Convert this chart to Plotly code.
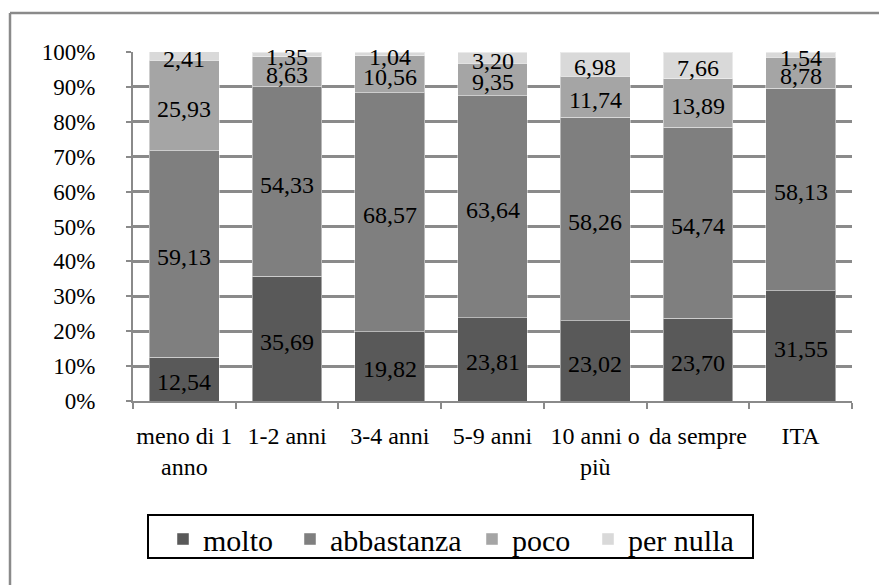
import plotly.graph_objects as go

categories = ["meno di 1<br>anno", "1-2 anni", "3-4 anni", "5-9 anni",
              "10 anni o<br>più", "da sempre", "ITA"]
molto = [12.54, 35.69, 19.82, 23.81, 23.02, 23.70, 31.55]
abbastanza = [59.13, 54.33, 68.57, 63.64, 58.26, 54.74, 58.13]
poco = [25.93, 8.63, 10.56, 9.35, 11.74, 13.89, 8.78]
per_nulla = [2.41, 1.35, 1.04, 3.20, 6.98, 7.66, 1.54]

series = [
    ("molto", molto, "#595959"),
    ("abbastanza", abbastanza, "#7f7f7f"),
    ("poco", poco, "#a5a5a5"),
    ("per nulla", per_nulla, "#d9d9d9"),
]
y_ticks = list(range(0, 101, 10))
y_ticktext = [f"{v}%" for v in y_ticks]

FONT = "Liberation Serif"
GRID = "#8a8a8a"

W, H = 879, 585
L, T = 133, 52
R = W - 852
B = H - 401
pw, ph = W - L - R, H - T - B

def px_x(x):
    return (x - L) / pw

def px_y(y):
    return (H - B - y) / ph

legend_ids = ["legend", "legend2", "legend3", "legend4"]
legend_text_x = [203, 330, 512, 628]

fig = go.Figure()
base = [0.0] * len(categories)
annotations = []
for (name, vals, color), lid in zip(series, legend_ids):
    fig.add_trace(go.Bar(
        name=name, x=categories, y=vals, legend=lid,
        marker=dict(color=color, line=dict(color="rgba(255,255,255,0.45)", width=1)),
        hoverinfo="skip",
    ))
    for cat, b, v in zip(categories, base, vals):
        annotations.append(dict(
            x=cat, y=b + v / 2, xref="x", yref="y",
            text=f"{v:.2f}".replace(".", ","), showarrow=False,
            font=dict(family=FONT, size=24, color="black"),
            xanchor="center", yanchor="middle", yshift=-3,
        ))
    base = [b + v for b, v in zip(base, vals)]

# outer chart frame (only top and left edges are visible)
frame = dict(color="#8a8a8a", width=2.5)
fig.add_shape(type="line", xref="paper", yref="paper",
              x0=px_x(10), x1=px_x(890), y0=px_y(13), y1=px_y(13), line=frame, layer="below")
fig.add_shape(type="line", xref="paper", yref="paper",
              x0=px_x(10), x1=px_x(10), y0=px_y(13), y1=px_y(600), line=frame, layer="below")
# legend frame
fig.add_shape(type="rect", xref="paper", yref="paper",
              x0=px_x(148), x1=px_x(753), y0=px_y(558), y1=px_y(515),
              line=dict(color="black", width=2), fillcolor="rgba(0,0,0,0)", layer="below")

legends = {}
for lid, tx in zip(legend_ids, legend_text_x):
    legends[lid] = dict(
        orientation="h", x=px_x(tx - 40), xanchor="left", y=px_y(539), yanchor="middle",
        font=dict(family=FONT, size=30, color="black"),
        borderwidth=0, bgcolor="rgba(0,0,0,0)", itemclick=False,
    )

fig.update_layout(
    width=W, height=H,
    margin=dict(l=L, r=R, t=T, b=B, pad=0),
    paper_bgcolor="white", plot_bgcolor="white",
    barmode="stack", bargap=0.32,
    font=dict(family=FONT, color="black"),
    showlegend=True,
    annotations=annotations,
    **legends,
    xaxis=dict(
        showgrid=False, showline=True, linecolor=GRID, linewidth=2,
        ticks="outside", tickson="boundaries", ticklen=6, tickcolor=GRID, tickwidth=2,
        tickangle=0,
        tickfont=dict(family=FONT, size=24, color="black"), ticklabelstandoff=12,
        fixedrange=True,
    ),
    yaxis=dict(
        range=[0, 100], tickmode="array", tickvals=y_ticks, ticktext=y_ticktext,
        showgrid=True, gridcolor=GRID, gridwidth=2.5,
        showline=True, linecolor=GRID, linewidth=2,
        ticks="outside", ticklen=5, tickcolor=GRID, tickwidth=2,
        tickfont=dict(family=FONT, size=23, color="black"), ticklabelstandoff=26,
        zeroline=False, fixedrange=True,
    ),
)

fig.write_html(
    "out.html",
    config={"displayModeBar": False},
    post_script="document.body.style.margin='0';document.body.style.overflow='hidden';",
)
